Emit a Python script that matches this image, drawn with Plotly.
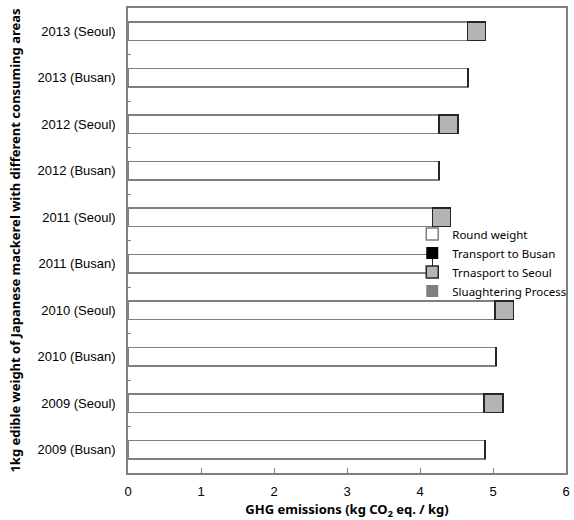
import plotly.graph_objects as go

categories = ["2009 (Busan)", "2009 (Seoul)", "2010 (Busan)", "2010 (Seoul)",
              "2011 (Busan)", "2011 (Seoul)", "2012 (Busan)", "2012 (Seoul)",
              "2013 (Busan)", "2013 (Seoul)"]
round_weight = [4.89, 4.88, 5.04, 5.03, 4.17, 4.17, 4.26, 4.26, 4.66, 4.65]
transport_busan = [0, 0, 0, 0, 0, 0, 0, 0, 0, 0]
transport_seoul = [0, 0.26, 0, 0.25, 0, 0.25, 0, 0.26, 0, 0.25]
slaughtering = [0, 0, 0, 0, 0, 0, 0, 0, 0, 0]
x_ticks = [0, 1, 2, 3, 4, 5, 6]

fig = go.Figure()
fig.add_trace(go.Bar(y=categories, x=round_weight, orientation="h", name="Round weight",
                     marker=dict(color="white", line=dict(color="#7f7f7f", width=1.5))))
fig.add_trace(go.Bar(y=categories, x=transport_busan, orientation="h", name="Transport to Busan",
                     marker=dict(color="black", line=dict(width=0))))
fig.add_trace(go.Bar(y=categories, x=transport_seoul, orientation="h", name="Trnasport to Seoul",
                     marker=dict(color="#b4b4b4", line=dict(color="#262626", width=1.5))))
fig.add_trace(go.Bar(y=categories, x=slaughtering, orientation="h", name="Sluaghtering Process",
                     marker=dict(color="#7f7f7f", line=dict(width=0))))

fig.update_layout(
    barmode="stack",
    bargap=0.6,
    width=574, height=520,
    margin=dict(l=128, r=8, t=8, b=47, autoexpand=False),
    plot_bgcolor="white", paper_bgcolor="white",
    font=dict(family="Liberation Sans, Arial, sans-serif", size=13, color="black"),
    legend=dict(x=1.012, y=0.545, xanchor="right", yanchor="top",
                bgcolor="rgba(0,0,0,0)", traceorder="normal",
                font=dict(family="Noto Sans", size=11.5), itemwidth=30,
                tracegroupgap=0),
    xaxis=dict(range=[0, 6], tickvals=x_ticks, ticks="inside", ticklen=5,
               tickcolor="#7f7f7f", showline=True, linecolor="#7f7f7f", linewidth=1.5,
               mirror=True, showgrid=False, zeroline=False, ticklabelstandoff=6,
               title=dict(text="<b>GHG emissions (kg CO<sub>2</sub> eq. / kg)</b>",
                          font=dict(family="Noto Sans", size=13), standoff=14)),
    yaxis=dict(categoryorder="array", categoryarray=categories,
               ticks="inside", ticklen=3, tickson="boundaries", tickcolor="#7f7f7f",
               showline=True, linecolor="#7f7f7f", linewidth=1.5, mirror=True,
               showgrid=False, ticklabelstandoff=8,
               title=dict(text="<b>1kg edible weight of Japanese mackerel with different consuming areas</b>",
                          font=dict(family="Noto Sans", size=13), standoff=14)),
)

fig.write_html("out.html")
